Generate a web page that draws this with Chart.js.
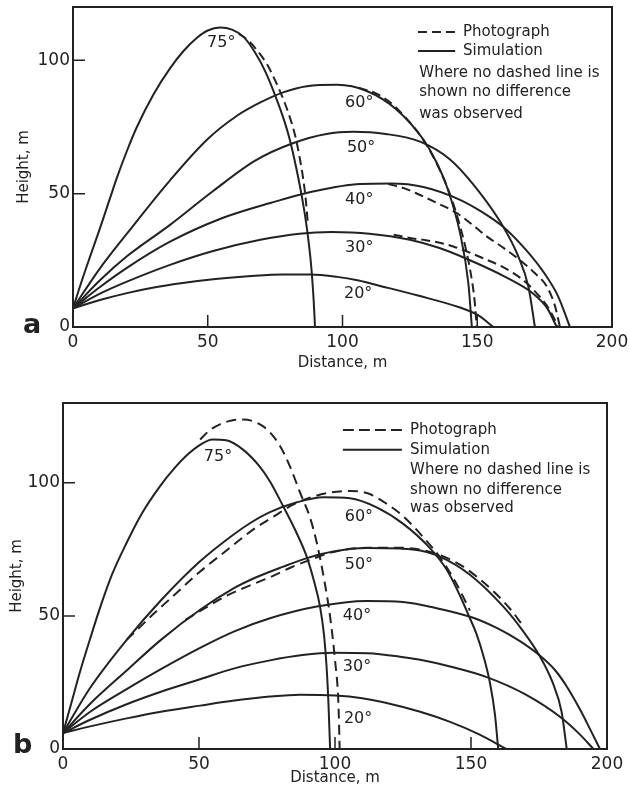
<!DOCTYPE html>
<html>
<head>
<meta charset="utf-8">
<script src="https://cdn.jsdelivr.net/npm/chart.js@4.4.1/dist/chart.umd.min.js"></script>
<style>
  html, body { margin: 0; padding: 0; background: #ffffff; }
  #wrap { position: relative; width: 630px; height: 794px; background: #ffffff; }
  canvas { position: absolute; left: 0; }
</style>
</head>
<body>
<div id="wrap">
  <canvas id="panelA" width="630" height="390" style="top:0px"></canvas>
  <canvas id="panelB" width="630" height="404" style="top:390px"></canvas>
</div>
<script>
// ---------------- data: [distance (m), height (m)] ----------------
const xTicks = [0, 50, 100, 150, 200];
const yTicks = [0, 50, 100];
const angleLabels = ['20°', '30°', '40°', '50°', '60°', '75°'];
const legendLabels = ['Photograph', 'Simulation'];
const noteLines = ['Where no dashed line is', 'shown no difference', 'was observed'];

// Panel a — simulation
const simA20 = [[0,7],[10,10.1],[20,12.7],[30,14.8],[40,16.4],[52,17.9],[65,19],[78,19.7],[88,19.7],[98,18.8],[106,17.4],[114,15.4],[128,11.8],[143.6,7.3],[150,4.6],[156,0]];
const simA30 = [[0,7],[10,12.5],[20,17],[36,23.3],[52,28.5],[69.5,32.7],[84,35],[96,35.6],[110,35],[125,32.7],[136,29.6],[146,25.6],[160,19],[170.8,12.5],[176,7],[179.5,0]];
const simA40 = [[0,7],[10,15],[20,22.2],[36,32],[55,40.7],[73.2,46.5],[90,51],[106.5,53.6],[118,53.8],[130,52.5],[143.6,47.7],[152,43],[159.7,37.5],[168,29],[175,20],[180,11.5],[184.4,0]];
const simA50 = [[0,7],[10,17.5],[20,26.5],[36,38.3],[52,51],[67.6,62.4],[81.8,69],[94,72.4],[104,73.2],[116,72.4],[128.8,69.5],[139.9,62.8],[151,50.3],[159.7,37.5],[165,27],[169,15],[171.4,0]];
const simA60 = [[0,7],[10,22],[20,35],[36,55],[50,70.5],[61,79.3],[69.5,84.2],[78,88],[86.8,90.3],[98,90.8],[109,88.5],[120,81.6],[130,70.3],[134.5,62.5],[138.7,52.7],[143.6,35.3],[146.7,16.4],[148,0]];
const simA75 = [[0,7],[3,16.5],[6.2,26],[10,37],[13.8,48.5],[16.3,56],[20,66],[23.7,75],[30,87.5],[36,97],[41,103.5],[46,108.5],[50,111.2],[54.6,112.3],[59,111.5],[63.3,108.8],[67.5,103],[71.5,95.5],[75.6,85.3],[78.5,77],[80.5,70],[82.7,60.3],[84.8,49.6],[86.8,37],[88.4,22.7],[89.3,10],[89.8,0]];
// Panel a — photograph
const photoA75 = [[61.5,110],[65,107.5],[68.5,103.5],[72,98.5],[75,92.5],[78,85.5],[80.5,78.5],[82.5,71.5],[84.2,63],[85.5,55],[86.4,47.5],[87.2,38]];
const photoA60 = [[106,89.6],[112,87.8],[118,84],[123,79],[128,73],[132.5,66],[136.5,58],[140,49.5],[143,40],[145.6,30],[147.6,20],[149,10],[149.8,0]];
const photoA40 = [[117,53.6],[123,52],[128.8,49.5],[135,46.5],[142.4,42.7],[148,38.5],[153.5,34],[160,29.5],[165.9,25],[171,20.5],[175.8,15.2],[178.8,8],[180.7,0]];
const photoA30 = [[119,34.6],[125,33.4],[131,32.5],[136,31.6],[141.1,30.2],[147,28],[153.5,25.2],[158.5,23],[163.4,20.2],[168,16.8],[172,12.7],[175.5,8.5],[178.2,3.9],[180,0]];

// Panel b — simulation
const simB20 = [[0,6],[10,8.5],[23.4,11.5],[36,14],[50.4,16.3],[63,18.2],[76.1,19.7],[87.1,20.4],[100,20.1],[110,19.1],[117.8,17.6],[131.3,14],[142.3,10.2],[153,5.5],[163,0]];
const simB30 = [[0,6],[10,11],[23.4,16.8],[36,21.5],[50.4,26.2],[63,30.3],[76.1,33.3],[88,35.3],[99.4,36.2],[112,36],[123.9,34.7],[131.3,33.5],[142.3,31],[155.8,27],[170,20.5],[182.7,12.1],[190,5.5],[195,0]];
const simB40 = [[0,6],[10,14],[23.4,22.5],[36,30],[50.4,38],[63,44.2],[76.1,49.1],[93.3,53.5],[111.6,55.6],[125,55.2],[137,53],[150.8,49.3],[160,45.2],[168,40.5],[175.4,35],[181,29.5],[185.2,23.5],[190,15],[194,7],[197.4,0]];
const simB50 = [[0,6],[10,17],[23.4,29.5],[36,41],[50.4,52.3],[63,60.5],[68.8,63.5],[81,68.5],[90,71.8],[99.4,74.2],[111.6,75.5],[123.9,75.3],[131.3,74.6],[138.6,72.3],[149.6,65.5],[161.9,53.5],[169,44.5],[175.4,34.7],[180,25],[183.3,14],[185.2,0]];
const simB60 = [[0,6],[10,23],[23.4,41],[35.7,55.5],[50.4,70.5],[62.6,80.5],[69,85],[76.1,89],[86,92.7],[95.7,94.6],[105.5,94.2],[115.3,90.8],[125.1,84.6],[134.9,75.5],[141,67.5],[146,57.5],[149,50.5],[152.1,43],[154.7,34.5],[157,24.7],[158.8,13],[160,0]];
const simB75 = [[0,6],[3,17],[6.25,29],[10,41.5],[13.6,53],[18,65.5],[23.4,77.5],[29,88.5],[35.7,98.8],[41,105.5],[46,110.8],[50.4,114.3],[55,116.3],[60,116],[66.3,112.4],[72.4,106],[76.1,100.5],[81,91.1],[85.5,82],[89.6,72.3],[92.3,63],[94.5,53.5],[96,42.5],[96.9,31],[97.6,17],[98.2,0]];
// Panel b — photograph
const photoB75 = [[50.4,116.3],[54,119.8],[57.7,122],[62,123.4],[66.3,123.8],[70,123.1],[73.6,121.2],[76.5,118.5],[80,113.5],[83.5,106],[87.1,96.5],[90.8,87],[93.3,77.5],[96.3,62],[98.2,49.7],[100,33.5],[101.2,18.4],[101.5,9],[101.7,0]];
const photoB60 = [[23.4,41],[28,45.5],[33,50.5],[40,57],[50,66.3],[60,74.5],[70,82.5],[78,87.7],[84,91.5],[91,94.5],[98,96.3],[105.5,96.9],[112,96.1],[118,92.8],[125,87.5],[132.5,79.5],[138.6,72],[144.7,62],[149.6,52]];
const photoB50 = [[45,48.5],[52,52.8],[60,57.5],[68.8,61.5],[76,64.5],[84,68.3],[92,71.5],[99.4,74],[111.6,75.6],[123.9,75.6],[132,74.8],[140,72.3],[147,68.6],[153,64],[159,58.5],[164.5,52.5],[169,46.5]];

// ---------------- rendering ----------------
const INK = '#222222';
const FONT = "'DejaVu Sans', sans-serif";

const pts = arr => arr.map(([x, y]) => ({ x, y }));
function curve(data, dash) {
  return {
    data: pts(data), showLine: true, borderColor: INK, backgroundColor: INK,
    borderWidth: 2, borderDash: dash || [], pointRadius: 0,
    cubicInterpolationMode: 'monotone', fill: false
  };
}

function makeDecor(id, d) {
  return {
    id: id,
    afterDatasetsDraw(chart) {
      const { ctx, chartArea: a, scales: { x, y } } = chart;
      ctx.save();
      // frame
      ctx.strokeStyle = INK; ctx.lineWidth = 2; ctx.setLineDash([]);
      ctx.strokeRect(a.left, a.top, a.right - a.left, a.bottom - a.top);
      // inward tick marks
      ctx.lineWidth = 1.5;
      ctx.beginPath();
      x.ticks.forEach(t => {
        if (t.value > x.min && t.value < x.max) {
          const px = x.getPixelForValue(t.value);
          ctx.moveTo(px, a.bottom); ctx.lineTo(px, a.bottom - 12);
        }
      });
      y.ticks.forEach(t => {
        if (t.value > y.min && t.value < y.max) {
          const py = y.getPixelForValue(t.value);
          ctx.moveTo(a.left, py); ctx.lineTo(a.left + 12, py);
        }
      });
      ctx.stroke();
      // angle labels
      ctx.fillStyle = INK;
      ctx.font = '16px ' + FONT;
      ctx.textAlign = 'center'; ctx.textBaseline = 'middle';
      d.labelAt.forEach((p, i) => {
        ctx.fillText(angleLabels[i], x.getPixelForValue(p[0]), y.getPixelForValue(p[1]));
      });
      // legend
      const L = d.legend;
      ctx.lineWidth = 2;
      ctx.beginPath(); ctx.setLineDash(L.dash);
      ctx.moveTo(x.getPixelForValue(L.x0), y.getPixelForValue(L.yDash));
      ctx.lineTo(x.getPixelForValue(L.x1), y.getPixelForValue(L.yDash));
      ctx.stroke();
      ctx.beginPath(); ctx.setLineDash([]);
      ctx.moveTo(x.getPixelForValue(L.x0), y.getPixelForValue(L.ySolid));
      ctx.lineTo(x.getPixelForValue(L.x1), y.getPixelForValue(L.ySolid));
      ctx.stroke();
      ctx.font = '15px ' + FONT; ctx.textAlign = 'left';
      ctx.fillText(legendLabels[0], x.getPixelForValue(L.xText), y.getPixelForValue(L.yDash));
      ctx.fillText(legendLabels[1], x.getPixelForValue(L.xText), y.getPixelForValue(L.ySolid));
      noteLines.forEach((t, i) => {
        ctx.fillText(t, x.getPixelForValue(L.xNote), y.getPixelForValue(L.yNotes[i]));
      });
      // panel letter
      ctx.font = 'bold 27px ' + FONT; ctx.textBaseline = 'alphabetic';
      ctx.fillText(d.letter, a.left + d.letterDx, a.bottom + d.letterDy);
      ctx.restore();
    }
  };
}

function makePanel(canvasId, o) {
  return new Chart(document.getElementById(canvasId), {
    type: 'scatter',
    data: { datasets: o.datasets },
    options: {
      responsive: false, animation: false, devicePixelRatio: 1, events: [],
      layout: { padding: o.pad },
      plugins: { legend: { display: false }, tooltip: { enabled: false } },
      scales: {
        x: {
          type: 'linear', min: 0, max: 200,
          grid: { display: false, drawTicks: false }, border: { display: false },
          ticks: {
            stepSize: 50, includeBounds: false, autoSkip: false, maxRotation: 0,
            padding: 5, color: INK, font: { family: FONT, size: 17 },
            callback: v => xTicks.includes(v) ? String(v) : ''
          },
          title: { display: true, text: 'Distance, m', color: INK, font: { family: FONT, size: 15 }, padding: { top: 0, bottom: 0 } },
          afterFit: s => { s.height = o.xAxisH; s.paddingLeft = 0; s.paddingRight = 0; }
        },
        y: {
          type: 'linear', min: 0, max: o.yMax,
          grid: { display: false, drawTicks: false }, border: { display: false },
          ticks: {
            stepSize: 50, includeBounds: false, autoSkip: false,
            padding: 3, color: INK, font: { family: FONT, size: 17 },
            callback: v => yTicks.includes(v) ? String(v) : ''
          },
          title: { display: true, text: 'Height, m', color: INK, font: { family: FONT, size: 15 }, padding: { top: o.yTitlePad, bottom: 0 } },
          afterFit: s => { s.width = o.yAxisW; s.paddingTop = 0; s.paddingBottom = 0; }
        }
      }
    },
    plugins: [makeDecor(o.decorId, o.decor)]
  });
}

const dashA = [9, 5];
const dashB = [10, 6];

makePanel('panelA', {
  yMax: 120, yAxisW: 73, xAxisH: 45, yTitlePad: 15,
  pad: { left: 0, top: 7, right: 18, bottom: 18 },
  datasets: [
    curve(simA20), curve(simA30), curve(simA40), curve(simA50), curve(simA60), curve(simA75),
    curve(photoA75, dashA), curve(photoA60, dashA), curve(photoA40, dashA), curve(photoA30, dashA)
  ],
  decorId: 'decorA',
  decor: {
    letter: 'a', letterDx: -50, letterDy: 6,
    labelAt: [[105.8,12.4],[106.2,29.7],[106.2,47.7],[106.9,67.3],[106.2,84.2],[55,106.4]],
    legend: { dash: [9, 5], x0: 128, x1: 141.8, xText: 144.7, yDash: 110.6, ySolid: 103.5,
              xNote: 128.5, yNotes: [95.1, 87.9, 79.9] }
  }
});

makePanel('panelB', {
  yMax: 130, yAxisW: 63, xAxisH: 38, yTitlePad: 8,
  pad: { left: 0, top: 13, right: 23, bottom: 7 },
  datasets: [
    curve(simB20), curve(simB30), curve(simB40), curve(simB50), curve(simB60), curve(simB75),
    curve(photoB75, dashB), curve(photoB60, dashB), curve(photoB50, dashB)
  ],
  decorId: 'decorB',
  decor: {
    letter: 'b', letterDx: -50, letterDy: 4,
    labelAt: [[108.5,11.3],[108.1,30.8],[108.1,50],[108.8,69.2],[108.8,87.2],[57,109.8]],
    legend: { dash: [11, 5], x0: 102.9, x1: 124.6, xText: 127.6, yDash: 119.9, ySolid: 112.4,
              xNote: 127.6, yNotes: [104.9, 97.4, 90.6] }
  }
});
</script>
</body>
</html>
